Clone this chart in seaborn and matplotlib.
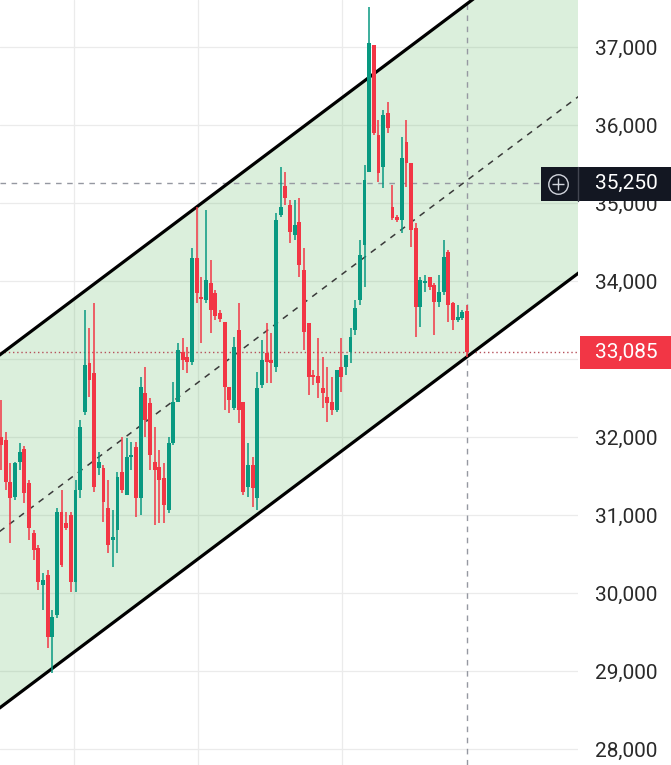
import numpy as np
import pandas as pd
import matplotlib
matplotlib.use("Agg")
import matplotlib.pyplot as plt
import matplotlib.transforms as mtransforms
from matplotlib.patches import Rectangle
import seaborn as sns

# candle data
opens = [32000, 31960, 31425, 31230, 31680, 31845, 31410, 30770, 30575, 30105,
         30230, 29435, 29720, 31040, 30895, 31000, 30140, 31320, 32320, 32950,
         32820, 31605, 31605, 31090, 30680, 30805, 31550, 31255, 31745, 31870,
         31220, 32565, 32435, 31680, 31615, 31475, 31065, 31925, 32450, 33090,
         33025, 32960, 34295, 33795, 33755, 33975, 33845, 33590, 33475, 32640,
         32370, 33370, 32450, 31360, 31640, 31220, 32665, 33075, 32985, 32900,
         34845, 35220, 34975, 34590, 34755, 34140, 33460, 32795, 32780, 32630,
         32515, 32450, 32345, 32900, 32900, 33090, 33370, 33755, 34460, 35395,
         37025, 35870, 35460, 36155, 34950, 34820, 34780, 35780, 35515, 34680,
         33665, 33975, 34050, 33950, 33730, 33860, 34370, 33720, 33500, 33525,
         33615]
highs = [32475, 32065, 31665, 31680, 31925, 31885, 31450, 30810, 30615, 30255,
         30295, 29780, 31090, 31320, 31040, 31040, 31450, 32220, 33630, 33400,
         33720, 31810, 31640, 31450, 31065, 31550, 32000, 31985, 31935, 31935,
         32770, 32900, 32500, 32130, 31835, 31665, 32000, 32705, 33205, 33270,
         33155, 34425, 34950, 34050, 34910, 34270, 33885, 33630, 33475, 32640,
         33280, 33720, 32450, 31925, 31745, 32835, 33245, 33460, 33335, 34870,
         35460, 35395, 35040, 35040, 35065, 34425, 33460, 32860, 33270, 33025,
         32900, 32770, 32860, 33270, 33050, 33400, 33755, 34525, 35490, 37510,
         37025, 36065, 36190, 36295, 35230, 34845, 35845, 36065, 35515, 34745,
         34050, 34075, 34050, 33975, 34075, 34525, 34400, 33730, 33690, 33630,
         33690]
lows = [31575, 31320, 30640, 31195, 31575, 31155, 30680, 30425, 30040, 29780,
        29295, 28975, 29680, 30335, 30805, 30015, 30015, 31220, 32280, 32515,
        31295, 31515, 30910, 30515, 30335, 30515, 31280, 31255, 31575, 30975,
        31000, 32000, 31575, 30870, 30895, 30895, 31025, 31900, 32450, 32860,
        32820, 32925, 33720, 33205, 33720, 33335, 33500, 33475, 32345, 32310,
        32345, 32180, 31255, 31230, 31105, 31065, 32630, 32690, 32690, 32835,
        34820, 34975, 34485, 34525, 34050, 33115, 32540, 32665, 32500, 32370,
        32190, 32280, 32320, 32575, 32795, 32950, 33310, 33690, 33925, 35395,
        35870, 35270, 35190, 35895, 34780, 34755, 34615, 35205, 34435, 33280,
        33410, 33860, 33885, 33310, 33665, 33820, 33475, 33370, 33475, 33500,
        33025]
closes = [31900, 31425, 31220, 31665, 31810, 31280, 30835, 30550, 30140, 30165,
          29435, 29695, 31040, 30360, 30835, 30140, 31320, 32130, 32925, 32730,
          31360, 31680, 31165, 30615, 30720, 31485, 31320, 31745, 31770, 31220,
          32640, 32220, 31770, 31575, 31450, 31130, 31925, 32450, 33115, 32985,
          32960, 34295, 33845, 33770, 34015, 33630, 33550, 33515, 32640, 32475,
          33155, 32345, 31295, 31640, 31345, 32630, 32985, 32960, 32950, 34780,
          34950, 35065, 34630, 34720, 34205, 33345, 32770, 32770, 32690, 32565,
          32435, 32345, 32860, 32770, 33050, 33280, 33655, 34335, 35295, 37050,
          35895, 35385, 36130, 35960, 34810, 34780, 35575, 35515, 34655, 33665,
          34015, 33990, 33925, 33730, 33860, 34310, 33690, 33500, 33540, 33605,
          33085]

# parallel channel end points (candle index, price)
channel_x = [-0.3, 124]
upper_y = [33050, 38632]
lower_y = [28525, 34106]

price_ticks = [28000, 29000, 30000, 31000, 32000, 33000, 34000, 35000, 36000, 37000]
tick_labels = ["28,000", "29,000", "30,000", "31,000", "32,000", "", "34,000", "35,000", "36,000", "37,000"]
time_grid = [15.7, 42.3, 73.2]
crosshair_price = 35250
crosshair_idx = 100
last_price = 33085

UP = "#089981"
DOWN = "#f23645"

df = pd.DataFrame({"open": opens, "high": highs, "low": lows, "close": closes})
df["idx"] = np.arange(len(df))
df["color"] = np.where(df["close"] >= df["open"], UP, DOWN)
df["bottom"] = df[["open", "close"]].min(axis=1)
df["body"] = (df["close"] - df["open"]).abs().clip(lower=20)

sns.set_theme(style="white")
plt.rcParams["font.family"] = ["Roboto", "DejaVu Sans"]

fig = plt.figure(figsize=(6.71, 7.65), dpi=100)
ax = fig.add_axes([0, 0, 578 / 671, 1])

# grid
for p in price_ticks:
    ax.axhline(p, color="#ebebeb", lw=0.9, zorder=0)
for t in time_grid:
    ax.axvline(t, color="#ebebeb", lw=0.9, zorder=0)

# channel
ax.fill_between(channel_x, lower_y, upper_y, color="#4caf50", alpha=0.2, lw=0, zorder=1)
sns.lineplot(x=channel_x, y=upper_y, color="black", lw=2.3, ax=ax, zorder=3)
sns.lineplot(x=channel_x, y=lower_y, color="black", lw=2.3, ax=ax, zorder=3)
mid_y = [(a + b) / 2 for a, b in zip(upper_y, lower_y)]
ax.plot(channel_x, mid_y, color="#3a3a3a", lw=1.1, ls=(0, (4, 4)), zorder=3)

# crosshair + last price
ax.axhline(crosshair_price, color="#9598a1", lw=1, ls=(0, (4, 4)), zorder=2)
ax.axvline(crosshair_idx, color="#9598a1", lw=1, ls=(0, (4, 4)), zorder=2)
ax.axhline(last_price, color="#b5505a", lw=1, ls=(0, (1, 2)), zorder=2)

# candles
ax.vlines(df["idx"], df["low"], df["high"], colors=df["color"], lw=1.1, zorder=4)
ax.bar(df["idx"], df["body"], bottom=df["bottom"], width=0.84, color=df["color"], lw=0, zorder=5)

ax.set_xlim(-0.2, 123.8)
ax.set_ylim(27795, 37602)
ax.set_xticks([])
ax.yaxis.tick_right()
ax.set_yticks(price_ticks)
ax.set_yticklabels(tick_labels)
ax.tick_params(axis="y", length=0, pad=12, labelsize=15, labelcolor="#2a2a2a")
for s in ax.spines.values():
    s.set_visible(False)

# price labels on the right scale
trans = mtransforms.blended_transform_factory(fig.transFigure, ax.transData)
ax.add_patch(Rectangle((541 / 671, 35030), 130 / 671, 425, transform=trans,
                       facecolor="#131722", edgecolor="none", clip_on=False, zorder=10))
ax.plot([578 / 671, 578 / 671], [35030, 35455], color="#434651", lw=1,
        transform=trans, clip_on=False, zorder=11)
ax.plot([558 / 671], [35242], marker="o", ms=14, mfc="none", mec="#d1d4dc", mew=1,
        transform=trans, clip_on=False, zorder=11)
ax.plot([558 / 671], [35242], marker="+", ms=9, mec="#d1d4dc", mew=1,
        transform=trans, clip_on=False, zorder=11)
ax.text(595 / 671, crosshair_price, f"{crosshair_price:,}", transform=trans, color="white",
        fontsize=15, va="center", ha="left", zorder=12)

ax.add_patch(Rectangle((580 / 671, 32870), 91 / 671, 420, transform=trans,
                       facecolor=DOWN, edgecolor="none", clip_on=False, zorder=10))
ax.text(595 / 671, last_price, f"{last_price:,}", transform=trans, color="white",
        fontsize=15, va="center", ha="left", zorder=12)

fig.savefig("out.png", dpi=100)
